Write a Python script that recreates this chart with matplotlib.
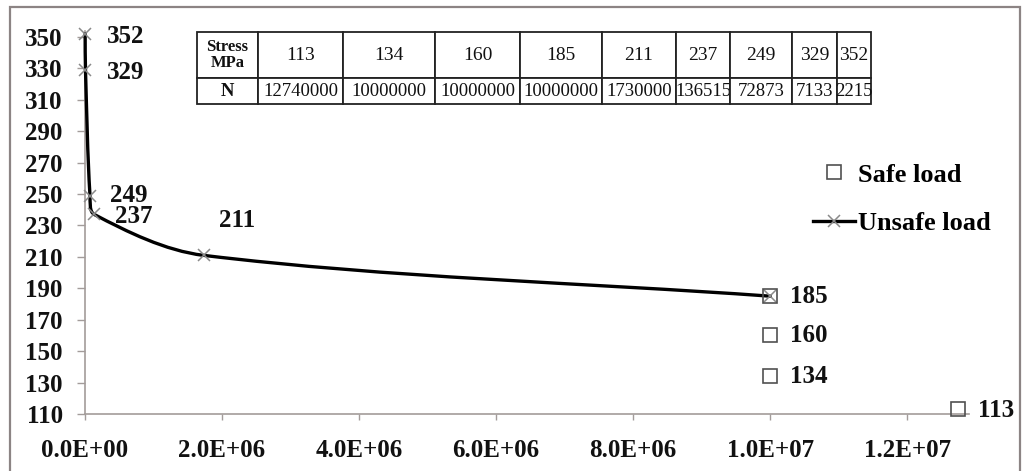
import numpy as np
import matplotlib
matplotlib.use("Agg")
import matplotlib.pyplot as plt
from matplotlib.path import Path
from matplotlib.patches import PathPatch, Rectangle
from matplotlib.lines import Line2D

# Fatigue test results (stress amplitude vs. number of cycles)
stress_mpa = [113, 134, 160, 185, 211, 237, 249, 329, 352]
cycles_n = [12740000, 10000000, 10000000, 10000000, 1730000, 136515, 72873, 7133, 2215]

# Run-outs (no failure)
safe_n = [10000000, 10000000, 10000000, 12740000]
safe_stress = [185, 160, 134, 113]

# Failed specimens
unsafe_n = [2215, 7133, 72873, 136515, 1730000, 10000000]
unsafe_stress = [352, 329, 249, 237, 211, 185]

x_ticks = [0, 2e6, 4e6, 6e6, 8e6, 10e6, 12e6]
x_tick_labels = ["0.0E+00", "2.0E+06", "4.0E+06", "6.0E+06", "8.0E+06", "1.0E+07", "1.2E+07"]
y_ticks = [110, 130, 150, 170, 190, 210, 230, 250, 270, 290, 310, 330, 350]

SERIF = ["Liberation Serif", "DejaVu Serif"]
W, H = 1025, 471

fig = plt.figure(figsize=(W / 100, H / 100), dpi=100)
fig.patch.set_facecolor("white")

# outer chart border
fig.patches.append(Rectangle((10 / W, -0.02), 1010 / W, (H - 7) / H + 0.02,
                             transform=fig.transFigure, fill=False,
                             edgecolor="#8c8484", lw=1.6))

ax = fig.add_axes([85 / W, (H - 414) / H, (969 - 85) / W, (414 - 30.7) / H])
ax.set_xlim(0, 12.9e6)
ax.set_ylim(110, 354)
ax.set_facecolor("none")

for side in ("top", "right"):
    ax.spines[side].set_visible(False)
for side in ("left", "bottom"):
    ax.spines[side].set_color("#a39c9a")
    ax.spines[side].set_linewidth(1.2)

ax.set_xticks(x_ticks)
ax.set_xticklabels(x_tick_labels)
ax.set_yticks(y_ticks)
ax.tick_params(axis="y", length=6, width=1, color="#a39c9a", pad=10)
ax.tick_params(axis="x", length=4, width=1, color="#a39c9a", pad=14)
for lab in ax.get_xticklabels() + ax.get_yticklabels():
    lab.set_fontfamily(SERIF)
    lab.set_fontweight("bold")
    lab.set_fontsize(18)
    lab.set_color("#111111")


def smooth_path(axes, xs, ys):
    """Excel-style smoothed line: cubic Bezier segments with length-weighted tangents."""
    pts = axes.transData.transform(np.column_stack([xs, ys]))
    n = len(pts)
    verts = [pts[0]]
    codes = [Path.MOVETO]
    for i in range(n - 1):
        p0 = pts[max(i - 1, 0)]
        p1 = pts[i]
        p2 = pts[i + 1]
        p3 = pts[min(i + 2, n - 1)]
        d01 = np.hypot(*(p1 - p0))
        d12 = np.hypot(*(p2 - p1))
        d23 = np.hypot(*(p3 - p2))
        f1 = d12 / (d01 + d12) / 3.0
        f2 = d12 / (d12 + d23) / 3.0
        c1 = p1 + (p2 - p0) * f1
        c2 = p2 - (p3 - p1) * f2
        verts += [c1, c2, p2]
        codes += [Path.CURVE4] * 3
    data_verts = axes.transData.inverted().transform(np.array(verts))
    return Path(data_verts, codes)


curve = smooth_path(ax, unsafe_n, unsafe_stress)
ax.add_patch(PathPatch(curve, fill=False, edgecolor="black", lw=2.4,
                       capstyle="round", joinstyle="round", zorder=3, clip_on=False))

ax.plot(unsafe_n, unsafe_stress, linestyle="none", marker="x", ms=9,
        mew=1.1, color="#8a8a8a", zorder=4, clip_on=False)
ax.plot(safe_n, safe_stress, linestyle="none", marker="s", ms=9.5,
        mfc="none", mec="#505050", mew=1.2, zorder=5, clip_on=False)

# value labels next to each point
label_offsets = {
    352: (22, -3), 329: (21, -3), 249: (20, 0), 237: (21, -2), 211: (15, 35),
    185: (20, 0), 160: (20, 0), 134: (20, 0), 113: (20, -1),
}
for n_val, s_val in zip(cycles_n, stress_mpa):
    dx, dy = label_offsets[s_val]
    ax.annotate(str(s_val), xy=(n_val, s_val), xytext=(dx, dy),
                textcoords="offset pixels", ha="left", va="center",
                fontfamily=SERIF, fontweight="bold", fontsize=18,
                color="#111111", annotation_clip=False, zorder=6)

# legend
handles = [
    Line2D([], [], linestyle="none", marker="s", ms=9.5, mfc="none",
           mec="#505050", mew=1.2),
    Line2D([], [], color="black", lw=2.4, marker="x", ms=9, mew=1.1,
           mec="#8a8a8a"),
]
fig.legend(handles, ["Safe load", "Unsafe load"], loc="upper left",
           bbox_to_anchor=(800 / W, 1 - 150 / H), bbox_transform=fig.transFigure,
           frameon=False, borderpad=0, handlelength=1.6, handletextpad=0.08,
           labelspacing=0.95,
           prop={"family": SERIF, "weight": "bold", "size": 19})

# data table
col_widths = [61, 85, 92, 85, 82, 74, 54, 62, 45, 34]
row_heights = [46, 26]
tab_ax = fig.add_axes([197 / W, 1 - 104 / H, sum(col_widths) / W, sum(row_heights) / H])
tab_ax.axis("off")
cell_text = [["Stress\nMPa"] + [str(s) for s in stress_mpa],
             ["N"] + [str(n) for n in cycles_n]]
table = tab_ax.table(cellText=cell_text,
                     colWidths=[w / sum(col_widths) for w in col_widths],
                     cellLoc="center", bbox=[0, 0, 1, 1])
table.auto_set_font_size(False)
for (r, c), cell in table.get_celld().items():
    cell.set_height(row_heights[r])
    cell.set_edgecolor("#222222")
    cell.set_linewidth(1.3)
    cell.set_facecolor("white")
    txt = cell.get_text()
    txt.set_fontfamily(SERIF)
    txt.set_color("#111111")
    if c == 0:
        txt.set_fontweight("bold")
        txt.set_fontsize(12 if r == 0 else 13.5)
        txt.set_linespacing(0.95)
    else:
        txt.set_fontsize(14 if r == 0 else 13.5)
    cell.PAD = 0.02

fig.savefig("out.png", dpi=100, facecolor="white")
